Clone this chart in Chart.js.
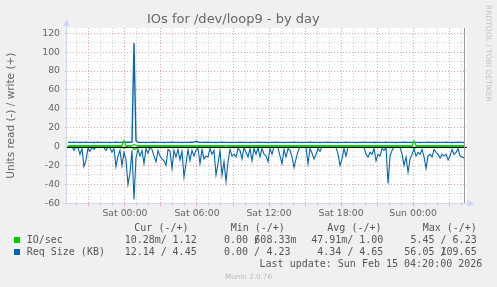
<!DOCTYPE html>
<html>
<head>
<meta charset="utf-8">
<script src="https://cdn.jsdelivr.net/npm/chart.js@4/dist/chart.umd.min.js"></script>
<style>
	html, body { margin: 0; padding: 0; background: #f0f0f0; }
	#wrap { position: relative; width: 497px; height: 287px; overflow: hidden; }
	#chart { position: absolute; left: 0; top: 0; }
	.t { position: absolute; font: 10px 'DejaVu Sans Mono', monospace; line-height: 10px; color: #555; white-space: pre; }
	.sq { position: absolute; width: 6px; height: 6px; }
	#munin { position: absolute; left: 0; top: 272px; width: 497px; text-align: center; font: 7.2px 'DejaVu Sans', sans-serif; line-height: 9px; color: #bbb; }
	#rrd { position: absolute; left: 484px; top: 5px; writing-mode: vertical-rl; font: 7.5px 'DejaVu Sans', sans-serif; line-height: 9px; color: #c4c4c4; }
</style>
</head>
<body>
<div id="wrap">
	<canvas id="chart" width="497" height="287"></canvas>
	<div id="rrd">RRDTOOL / TOBI OETIKER</div>
	<div id="munin">Munin 2.0.76</div>
</div>
<script>
// hours counted from Sat 00:00, one sample every 10 minutes
const startHour = -4.75
const stepHours = 1 / 6
const tickHours = [0, 6, 12, 18, 24]
const tickLabels = ['Sat 00:00', 'Sat 06:00', 'Sat 12:00', 'Sat 18:00', 'Sun 00:00']

// Req Size (KB), read side (drawn below zero)
const reqRead = [
	0, 0, 0, 4, 0, 1, 8, 2, 21, 14.5,
	2, 5, 1, 3, 0, 0, 0, 0, 1, 4,
	0, 1, 6, 2, 21, 10, 4, 20, 6, 14,
	40, 28, 4, 56.05, 12, 3, 10, 4, 18, 2,
	7, 1, 3, 10, 16, 4, 10, 13, 15, 20,
	3, 5, 23, 4, 11, 3, 14, 5, 32, 18,
	3, 15, 4, 10, 4, 2, 18, 3, 13, 10,
	11, 2, 8, 4, 30, 18, 4, 30, 16, 37,
	16, 3, 10, 8, 11, 2, 4, 13, 1, 6,
	11, 2, 15, 2, 8, 1, 11, 2, 8, 10,
	16, 2, 8, 0, 0, 1, 10, 18, 3, 11,
	2, 4, 11, 22, 13, 5, 0, 0, 0, 1,
	18, 2, 7, 13, 8, 2, 5, 0, 0, 0,
	0, 0, 0, 0, 1, 8, 20, 13, 2, 10,
	0, 0, 0, 0, 0, 0, 0, 0, 1, 8,
	11, 6, 8, 2, 15, 8, 10, 2, 4, 1,
	39, 10, 4, 0, 0, 0, 1, 8, 20, 11,
	27, 13, 8, 2, 10, 6, 8, 3, 11, 23,
	10, 8, 11, 3, 6, 8, 12, 8, 10, 8,
	14, 10, 3, 8, 6, 2, 10, 11, 12.14
]

// Req Size (KB), write side
const reqWrite = [
	4.5, 4.5, 4.5, 4.6, 4.5, 4.5, 4.4, 4.5, 4.5, 4.6,
	4.5, 4.5, 4.5, 4.4, 4.5, 4.6, 4.5, 4.5, 4.5, 4.5,
	4.5, 4.4, 4.5, 4.5, 4.6, 4.5, 4.5, 4.6, 4.8, 4.7,
	4.6, 4.6, 4.7, 109.65, 6.5, 4.6, 4.5, 4.5, 4.5, 4.4,
	4.5, 4.5, 4.5, 4.6, 4.5, 4.5, 4.5, 4.5, 4.4, 4.5,
	4.5, 4.5, 4.6, 4.5, 4.5, 4.5, 4.5, 4.4, 4.5, 4.5,
	4.5, 4.6, 4.6, 4.8, 5.6, 4.9, 4.6, 4.5, 4.5, 4.5,
	4.6, 4.5, 4.5, 4.5, 4.4, 4.5, 4.5, 4.6, 4.5, 4.5,
	4.5, 4.5, 4.4, 4.5, 4.5, 4.5, 4.6, 4.5, 4.5, 4.5,
	4.5, 4.4, 4.5, 4.5, 4.5, 4.6, 4.5, 4.5, 4.5, 4.5,
	4.4, 4.5, 4.5, 4.5, 4.6, 4.5, 4.5, 4.5, 4.4, 4.5,
	4.5, 4.5, 4.5, 4.6, 4.5, 4.5, 4.5, 4.4, 4.5, 4.5,
	4.5, 4.6, 4.5, 4.5, 4.5, 4.5, 4.4, 4.5, 4.5, 4.5,
	4.6, 4.5, 4.5, 4.5, 4.5, 4.4, 4.5, 4.5, 4.5, 4.6,
	4.5, 4.5, 4.5, 4.5, 4.4, 4.5, 4.5, 4.5, 4.6, 4.5,
	4.5, 4.5, 4.5, 4.4, 4.6, 4.5, 4.5, 4.5, 4.5, 4.6,
	4.5, 4.5, 4.5, 4.5, 4.4, 4.5, 4.5, 4.5, 4.6, 4.5,
	4.5, 4.5, 4.5, 4.6, 4.5, 4.5, 4.4, 4.5, 4.5, 4.5,
	4.6, 4.5, 4.5, 4.5, 4.4, 4.5, 4.5, 4.5, 4.5, 4.6,
	4.5, 4.5, 4.4, 4.5, 4.5, 4.6, 4.5, 4.5, 4.45
]

// IO/sec, read side
const ioRead = [
	0.03, 0.02, 0.04, 0.03, 0.05, 0.04, 0.03, 0.02, 0.03, 0.02,
	0.03, 0.02, 0.03, 0.02, 0.04, 0.03, 0.05, 0.04, 0.06, 0.03,
	0.03, 0.02, 0.04, 0.03, 0.05, 0.04, 0.03, 0.06, 2.0, 0.1,
	0.1, 0.3, 0.5, 3.2, 2.4, 0.1, 0.05, 0.03, 0.04, 0.03,
	0.02, 0.04, 0.03, 0.05, 0.04, 0.03, 0.05, 0.03, 0.04, 0.02,
	0.05, 0.04, 0.03, 0.03, 0.02, 0.04, 0.03, 0.03, 0.04, 0.02,
	0.05, 0.04, 0.05, 0.03, 0.04, 0.03, 0.02, 0.03, 0.04, 0.02,
	0.03, 0.02, 0.04, 0.03, 0.03, 0.02, 0.03, 0.04, 0.02, 0.9,
	0.03, 0.03, 0.04, 0.03, 0.03, 0.05, 0.03, 0.02, 0.0, 0.0,
	0.04, 0.02, 0.03, 0.02, 0.02, 0.0, 0.0, 0.0, 0.0, 0.0,
	0.02, 0.04, 0.03, 0.0, 0.0, 0.0, 0.0, 0.0, 0.0, 0.02,
	0.03, 0.02, 0.04, 0.02, 0.03, 0.02, 0.0, 0.0, 0.0, 0.0,
	0.03, 0.02, 0.04, 0.05, 0.03, 0.02, 0.03, 0.0, 0.0, 0.0,
	0.0, 0.0, 0.0, 0.0, 0.0, 0.02, 0.04, 0.03, 0.02, 0.03,
	0.0, 0.0, 0.0, 0.0, 0.0, 0.0, 0.0, 0.0, 0.0, 0.02,
	0.03, 0.02, 0.03, 0.02, 0.04, 0.03, 0.03, 0.02, 0.02, 0.0,
	0.05, 0.03, 0.02, 0.0, 0.0, 0.0, 0.0, 0.02, 0.04, 0.03,
	0.05, 0.03, 0.04, 2.2, 0.03, 0.02, 0.03, 0.02, 0.03, 0.04,
	0.03, 0.02, 0.03, 0.02, 0.03, 0.02, 0.03, 0.04, 0.03, 0.02,
	0.03, 0.02, 0.02, 0.03, 0.02, 0.02, 0.03, 0.02, 0.01
]

// IO/sec, write side
const ioWrite = [
	1.1, 1.1, 1.0, 1.1, 1.1, 1.1, 1.0, 1.1, 1.1, 1.1,
	1.0, 1.1, 1.1, 1.1, 1.0, 1.1, 1.1, 1.1, 1.0, 1.1,
	1.1, 1.0, 1.1, 1.1, 1.1, 1.0, 1.1, 1.2, 6.23, 1.3,
	1.1, 1.1, 1.2, 2.2, 1.3, 1.1, 1.0, 1.1, 1.1, 1.0,
	1.0, 1.0, 1.1, 1.0, 1.0, 1.0, 1.0, 1.0, 1.0, 1.0,
	1.0, 1.0, 1.0, 1.1, 1.0, 1.0, 1.0, 1.0, 1.0, 1.0,
	1.0, 1.0, 1.0, 1.0, 1.1, 1.0, 1.0, 1.0, 1.0, 1.0,
	1.0, 1.0, 1.0, 1.0, 1.0, 1.0, 1.0, 1.0, 1.0, 1.2,
	1.0, 1.0, 1.0, 1.0, 1.0, 1.0, 1.0, 1.0, 1.0, 1.0,
	1.0, 1.0, 1.0, 1.0, 1.0, 1.0, 1.0, 1.0, 1.0, 1.0,
	1.0, 1.0, 1.0, 1.0, 1.0, 1.0, 1.0, 1.0, 1.0, 1.0,
	1.0, 1.0, 1.0, 1.0, 1.0, 1.0, 1.0, 1.0, 1.0, 1.0,
	1.0, 1.0, 1.0, 1.0, 1.0, 1.0, 1.0, 1.0, 1.0, 1.0,
	1.0, 1.0, 1.0, 1.0, 1.0, 1.0, 1.0, 1.0, 1.0, 1.0,
	1.0, 1.0, 1.0, 1.0, 1.0, 1.0, 1.0, 1.0, 1.0, 1.0,
	1.0, 1.0, 1.0, 1.0, 1.0, 1.0, 1.0, 1.0, 1.0, 1.0,
	1.1, 1.0, 1.1, 1.0, 1.0, 1.0, 1.0, 1.0, 1.1, 1.0,
	1.1, 1.0, 1.2, 6.0, 1.2, 1.1, 1.0, 1.1, 1.1, 1.0,
	1.1, 1.0, 1.1, 1.0, 1.1, 1.0, 1.1, 1.0, 1.1, 1.0,
	1.1, 1.0, 1.1, 1.0, 1.1, 1.0, 1.0, 1.1, 1.12
]

// legend texts
const seriesNames = ['IO/sec', 'Req Size (KB)']
const seriesColors = ['#00CC00', '#0066B3']
const statHeads = ['Cur (-/+)', 'Min (-/+)', 'Avg (-/+)', 'Max (-/+)']
const ioStatsRead = ['10.28m', '0.00 ', '47.91m', '5.45 ']
const ioStatsWrite = ['1.12 ', '608.33m', '1.00 ', '6.23 ']
const reqStatsRead = ['12.14 ', '0.00 ', '4.34 ', '56.05 ']
const reqStatsWrite = ['4.45 ', '4.23 ', '4.65 ', '109.65 ']
const lastUpdate = 'Last update: Sun Feb 15 04:20:00 2026'

const minorGrid = '#d4d4d4'
const majorGrid = '#f0a4a4'
const axisColor = '#CFD6F8'
const fontColor = '#666'

const toPoints = function (values, sign) {
	return values.map((v, i) => ({ x: startHour + i * stepHours, y: sign * v }))
}

const lastHour = startHour + (reqRead.length - 1) * stepHours

const muninDecor = {
	id: 'muninDecor',
	beforeDraw: function (chart) {
		const a = chart.chartArea
		const ctx = chart.ctx
		ctx.save()
		ctx.fillStyle = '#ffffff'
		ctx.fillRect(a.left, a.top, a.right - a.left, a.bottom - a.top)
		ctx.restore()
	},
	afterDatasetsDraw: function (chart) {
		const a = chart.chartArea
		const ctx = chart.ctx
		const xs = chart.scales.x
		const ys = chart.scales.y
		ctx.save()
		// zero line
		const y0 = Math.round(ys.getPixelForValue(0)) + 0.5
		ctx.strokeStyle = '#000000'
		ctx.lineWidth = 1
		ctx.beginPath()
		ctx.moveTo(a.left, y0)
		ctx.lineTo(a.right, y0)
		ctx.stroke()
		// now marker
		const xn = Math.round(xs.getPixelForValue(lastHour)) + 0.5
		ctx.strokeStyle = '#999999'
		ctx.beginPath()
		ctx.moveTo(xn, a.top)
		ctx.lineTo(xn, a.bottom)
		ctx.stroke()
		// axes with arrows
		const xl = Math.round(a.left) - 0.5
		const yb = Math.round(a.bottom) + 0.5
		ctx.strokeStyle = axisColor
		ctx.fillStyle = axisColor
		ctx.beginPath()
		ctx.moveTo(xl, yb)
		ctx.lineTo(xl, a.top - 4)
		ctx.moveTo(xl - 3, yb)
		ctx.lineTo(a.right + 2, yb)
		ctx.stroke()
		ctx.beginPath()
		ctx.moveTo(xl, a.top - 9)
		ctx.lineTo(xl - 3.5, a.top - 2)
		ctx.lineTo(xl + 3.5, a.top - 2)
		ctx.closePath()
		ctx.fill()
		ctx.beginPath()
		ctx.moveTo(a.right + 8, yb)
		ctx.lineTo(a.right + 1, yb - 3.5)
		ctx.lineTo(a.right + 1, yb + 3.5)
		ctx.closePath()
		ctx.fill()
		// vertical unit label, centred on the plot
		ctx.translate(11, (a.top + a.bottom) / 2)
		ctx.rotate(-Math.PI / 2)
		ctx.font = '10.5px "DejaVu Sans"'
		ctx.fillStyle = fontColor
		ctx.textAlign = 'center'
		ctx.textBaseline = 'middle'
		ctx.fillText('Units read (-) / write (+)', 0, 0)
		ctx.restore()
	}
}

const data = {
	datasets: [{
		label: 'IO/sec read',
		data: toPoints(ioRead, -1),
		borderColor: seriesColors[0],
		borderWidth: 1.2,
		order: 0
	}, {
		label: 'IO/sec write',
		data: toPoints(ioWrite, 1),
		borderColor: seriesColors[0],
		borderWidth: 1.2,
		order: 1
	}, {
		label: 'Req Size read',
		data: toPoints(reqRead, -1),
		borderColor: seriesColors[1],
		borderWidth: 1.1,
		order: 2
	}, {
		label: 'Req Size write',
		data: toPoints(reqWrite, 1),
		borderColor: seriesColors[1],
		borderWidth: 1.4,
		order: 3
	}]
}

const config = {
	type: 'line',
	data: data,
	plugins: [muninDecor],
	options: {
		responsive: false,
		animation: false,
		devicePixelRatio: 1,
		elements: { point: { radius: 0 }, line: { tension: 0 } },
		layout: { padding: { top: 0, left: 0, right: 30.3, bottom: 0 } },
		plugins: {
			legend: { display: false },
			tooltip: { enabled: false },
			title: {
				display: true,
				text: 'IOs for /dev/loop9 - by day',
				color: fontColor,
				font: { family: 'DejaVu Sans', size: 13, weight: 'normal', lineHeight: 1.2 },
				padding: { top: 11.7, bottom: 0.7 }
			}
		},
		scales: {
			x: {
				type: 'linear',
				min: -4.83,
				max: 28.47,
				afterBuildTicks: s => { s.ticks = s.ticks.filter(t => Number.isInteger(t.value)) },
				afterFit: s => { s.height = 83.7 },
				ticks: {
					stepSize: 1,
					includeBounds: false,
					autoSkip: false,
					maxRotation: 0,
					padding: 2,
					color: fontColor,
					font: { family: 'DejaVu Sans', size: 9.33 },
					callback: v => {
						const k = tickHours.indexOf(v)
						return k >= 0 ? tickLabels[k] : ''
					}
				},
				grid: {
					color: c => (c.tick && c.tick.value % 3 === 0) ? majorGrid : minorGrid,
					tickColor: c => (c.tick && c.tick.value % 3 === 0) ? majorGrid : minorGrid,
					tickLength: 3,
					lineWidth: 1
				},
				border: { display: false, dash: [1, 2] }
			},
			y: {
				min: -60,
				max: 125.6,
				afterBuildTicks: s => { s.ticks = s.ticks.filter(t => t.value % 10 === 0) },
				afterFit: s => { s.width = 67 },
				ticks: {
					stepSize: 10,
					includeBounds: false,
					autoSkip: false,
					padding: 5,
					color: fontColor,
					font: { family: 'DejaVu Sans', size: 9.33 },
					callback: v => (v % 20 === 0) ? String(v) : ''
				},
				grid: {
					color: c => (c.tick && c.tick.value % 20 === 0) ? majorGrid : minorGrid,
					tickColor: c => (c.tick && c.tick.value % 20 === 0) ? majorGrid : minorGrid,
					tickLength: 2,
					lineWidth: 1
				},
				border: { display: false, dash: [1, 2] }
			}
		}
	}
}

const muninChart = new Chart(document.getElementById('chart'), config)

// legend block under the graph
const wrap = document.getElementById('wrap')
const headX = [134.3, 230.7, 327.3, 422.7]
const readEnds = [166.8, 260, 353.4, 446.5]
const writeEnds = [202.7, 296.5, 389.3, 482.7]
const rowTops = [222.5, 234.9, 246.9, 258.9]

const addText = function (text, top, left, right) {
	const el = document.createElement('div')
	el.className = 't'
	el.textContent = text
	el.style.top = top + 'px'
	if (left !== null) el.style.left = left + 'px'
	else el.style.right = (497 - right) + 'px'
	wrap.appendChild(el)
}

statHeads.forEach((h, i) => addText(h, rowTops[0], headX[i], null))

const statRows = [[ioStatsRead, ioStatsWrite], [reqStatsRead, reqStatsWrite]]
seriesNames.forEach((name, r) => {
	const top = rowTops[r + 1]
	const sq = document.createElement('div')
	sq.className = 'sq'
	sq.style.background = seriesColors[r]
	sq.style.left = '14px'
	sq.style.top = (top + 2.3) + 'px'
	wrap.appendChild(sq)
	addText(name, top, 26.7, null)
	statRows[r][0].forEach((v, i) => addText(v + '/', top, null, readEnds[i]))
	statRows[r][1].forEach((v, i) => addText(v, top, null, writeEnds[i]))
})

addText(lastUpdate, rowTops[3], null, 482.3)
</script>
</body>
</html>
